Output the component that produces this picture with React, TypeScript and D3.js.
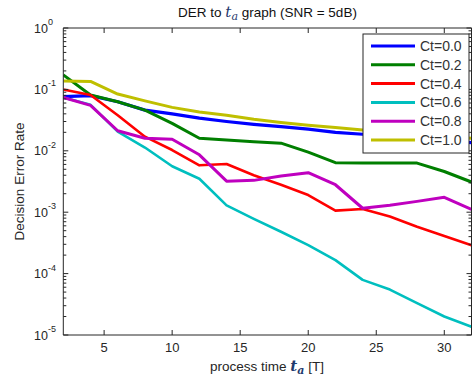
import React from "react";
import * as d3 from "d3";

const tValues = [2, 4, 6, 8, 10, 12, 14, 16, 18, 20, 22, 24, 26, 28, 30, 32];
const ct00 = [0.076, 0.079, 0.063, 0.046, 0.04, 0.034, 0.03, 0.027, 0.0247, 0.0226, 0.02, 0.0186, 0.0171, 0.0158, 0.0147, 0.0136];
const ct02 = [0.172, 0.081, 0.063, 0.046, 0.028, 0.016, 0.015, 0.0141, 0.0133, 0.0095, 0.0064, 0.0063, 0.0063, 0.0063, 0.0046, 0.0031];
const ct04 = [0.1, 0.081, 0.038, 0.017, 0.0103, 0.0058, 0.0061, 0.004, 0.0028, 0.0019, 0.00106, 0.00113, 0.00085, 0.00058, 0.00041, 0.00029];
const ct06 = [0.074, 0.056, 0.0205, 0.0113, 0.0056, 0.0035, 0.00129, 0.00078, 0.00048, 0.00029, 0.000166, 0.000079, 0.000055, 0.000033, 0.00002, 0.0000136];
const ct08 = [0.074, 0.055, 0.0212, 0.016, 0.0154, 0.0086, 0.0032, 0.0033, 0.0039, 0.0044, 0.0028, 0.00116, 0.0013, 0.0015, 0.00175, 0.00111];
const ct10 = [0.137, 0.135, 0.084, 0.065, 0.051, 0.043, 0.038, 0.0326, 0.0288, 0.026, 0.024, 0.0218, 0.02, 0.0185, 0.017, 0.016];

const seriesNames = ["Ct=0.0", "Ct=0.2", "Ct=0.4", "Ct=0.6", "Ct=0.8", "Ct=1.0"];
const seriesValues = [ct00, ct02, ct04, ct06, ct08, ct10];
const seriesColors = ["#0000ff", "#007f00", "#ff0000", "#00bfbf", "#bf00bf", "#bfbf00"];
const seriesWidths = [3.2, 3, 2.6, 2.6, 3, 3];

const xTicks = [5, 10, 15, 20, 25, 30];
const yExponents = [0, -1, -2, -3, -4, -5];

export default function App() {
  const W = 473, H = 381;
  const left = 63.3, right = 471.5, top = 28, bottom = 335;
  const x = d3.scaleLinear().domain([2, 32]).range([left, right]);
  const y = d3.scaleLog().domain([1e-5, 1]).range([bottom, top]);
  const line = d3.line<[number, number]>().x(d => x(d[0])).y(d => y(d[1]));

  const minorY: number[] = [];
  for (let e = -5; e < 0; e++) for (let m = 2; m <= 9; m++) minorY.push(m * Math.pow(10, e));

  const axisColor = "#262626";
  const font = "'Liberation Sans', Arial, sans-serif";

  const legX = 363, legY = 34, legW = 106, legH = 119;
  const rowStep = 18.8;

  return (
    <svg width={W} height={H} style={{ position: "absolute", left: 0, top: 0, background: "#fff" }} fontFamily={font}>
      <rect x={0} y={0} width={W} height={H} fill="#fff" />
      <defs>
        <clipPath id="plotclip">
          <rect x={left} y={top} width={right - left} height={bottom - top} />
        </clipPath>
      </defs>
      {/* series */}
      <g clipPath="url(#plotclip)">
        {seriesValues.map((vals, i) => (
          <path key={i} d={line(tValues.map((t, j) => [t, vals[j]] as [number, number])) || ""}
            fill="none" stroke={seriesColors[i]} strokeWidth={seriesWidths[i]} strokeLinejoin="round" />
        ))}
      </g>
      {/* axes box */}
      <g stroke={axisColor} strokeWidth={1} fill="none">
        <line x1={left} x2={right} y1={bottom} y2={bottom} />
        <line x1={left} x2={right} y1={top} y2={top} />
        <line x1={left} x2={left} y1={top} y2={bottom} />
        <line x1={right} x2={right} y1={top} y2={bottom} />
        {xTicks.map(t => (
          <g key={t}>
            <line x1={x(t)} x2={x(t)} y1={bottom} y2={bottom - 5} />
            <line x1={x(t)} x2={x(t)} y1={top} y2={top + 5} />
          </g>
        ))}
        {yExponents.map(e => (
          <g key={e}>
            <line x1={left} x2={left + 5} y1={y(Math.pow(10, e))} y2={y(Math.pow(10, e))} />
            <line x1={right} x2={right - 5} y1={y(Math.pow(10, e))} y2={y(Math.pow(10, e))} />
          </g>
        ))}
        {minorY.map((v, i) => (
          <g key={i}>
            <line x1={left} x2={left + 3} y1={y(v)} y2={y(v)} />
            <line x1={right} x2={right - 3} y1={y(v)} y2={y(v)} />
          </g>
        ))}
      </g>
      {/* x tick labels */}
      {xTicks.map(t => (
        <text key={t} x={x(t)} y={352} textAnchor="middle" fontSize={13} fill={axisColor}>{t}</text>
      ))}
      {/* y tick labels */}
      {yExponents.map(e => (
        <text key={e} x={34} y={y(Math.pow(10, e)) + 4.5} fontSize={12.5} fill={axisColor}>
          10<tspan fontSize={9} dy={-7.5}>{e}</tspan>
        </text>
      ))}
      {/* y label */}
      <text transform={`translate(24,${(top + bottom) / 2}) rotate(-90)`} textAnchor="middle" fontSize={13.5} fill={axisColor}>
        Decision Error Rate
      </text>
      {/* x label */}
      <text x={267} y={371} textAnchor="middle" fontSize={13.5} fill={axisColor}>
        process time <tspan fontFamily="'DejaVu Serif', serif" fontStyle="italic" fontWeight="bold" fill="#1f3a6e" fontSize={15}>t</tspan>
        <tspan fontFamily="'DejaVu Serif', serif" fontStyle="italic" fontWeight="bold" fill="#1f3a6e" fontSize={11} dy={3}>a</tspan>
        <tspan dy={-3}> [T]</tspan>
      </text>
      {/* title */}
      <text x={267.5} y={17} textAnchor="middle" fontSize={13.5} fill="#111">
        DER to <tspan fontFamily="'DejaVu Serif', serif" fontStyle="italic" fill="#1f3a6e" fontSize={15}>t</tspan>
        <tspan fontFamily="'DejaVu Serif', serif" fontStyle="italic" fill="#1f3a6e" fontSize={11} dy={3}>a</tspan>
        <tspan dy={-3}> graph (SNR = 5dB)</tspan>
      </text>
      {/* legend */}
      <rect x={legX} y={legY} width={legW} height={legH} fill="#fff" stroke={axisColor} strokeWidth={1} />
      {seriesNames.map((n, i) => {
        const cy = legY + 12 + i * rowStep;
        return (
          <g key={n}>
            <line x1={legX + 8} x2={legX + 52} y1={cy} y2={cy} stroke={seriesColors[i]} strokeWidth={3} />
            <text x={legX + 57} y={cy + 5} fontSize={14} fill="#333">{n}</text>
          </g>
        );
      })}
    </svg>
  );
}
